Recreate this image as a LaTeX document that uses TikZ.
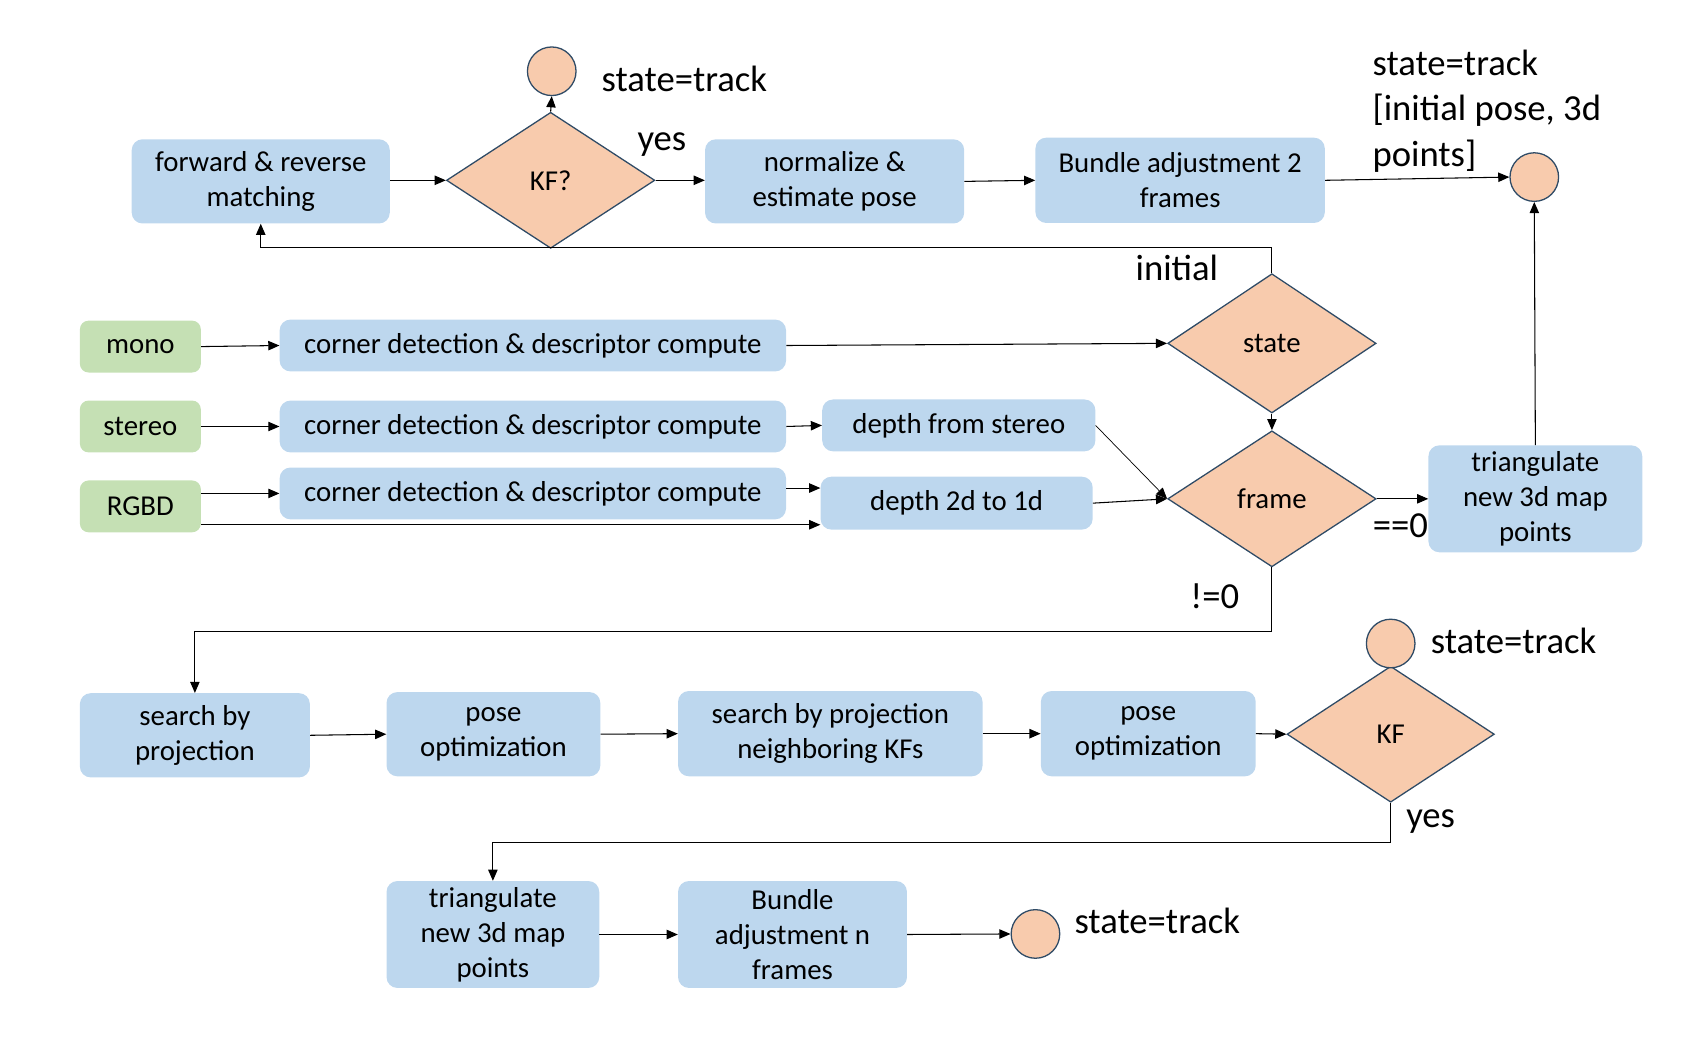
\documentclass[tikz,border=0pt]{standalone}
\usepackage{fontspec}
\setmainfont{Carlito}
\usetikzlibrary{arrows.meta,shapes.geometric,calc}
\newdimen\pxu \pxu=0.032391cm
\definecolor{boxblue}{HTML}{BDD7EE}
\definecolor{boxgreen}{HTML}{C5E0B4}
\definecolor{diafill}{HTML}{F8CBAD}
\definecolor{diaborder}{HTML}{2F4B66}
\tikzset{
  bx/.style 2 args={fill=boxblue, rounded corners=10\pxu, inner sep=0pt, align=center,
    font=\fontsize{24.6}{30}\selectfont, minimum width=#1\pxu, minimum height=#2\pxu},
  gbx/.style 2 args={fill=boxgreen, rounded corners=8\pxu, inner sep=0pt, align=center,
    font=\fontsize{24.6}{30}\selectfont, minimum width=#1\pxu, minimum height=#2\pxu},
  dia/.style 2 args={diamond, draw=diaborder, fill=diafill, line width=1.1pt, inner sep=0pt,
    font=\fontsize{24.6}{30}\selectfont, minimum width=#1\pxu, minimum height=#2\pxu},
  endc/.style={circle, draw=diaborder, fill=diafill, line width=1.1pt, inner sep=0pt,
    minimum size=45\pxu},
  lbl/.style={inner sep=0pt, font=\fontsize{31.3}{38.5}\selectfont, align=left},
  arr/.style={draw=black, line width=0.9pt, -{Triangle[length=9.5pt,width=8pt]}},
}
\begin{document}
\begin{tikzpicture}[x=0.032391cm, y=-0.032391cm]
\useasboundingbox (0,0) rectangle (1568,965);

% top row
\node[bx={239}{78}] (fwd) at (241.5,168) {forward \& reverse\\matching};
\node[dia={193}{126}] (kf1) at (510,167) {KF?};
\node[endc] (c1) at (511,66) {};
\node[lbl, anchor=west] (l1) at (557,73) {state=track};
\node[lbl] (yes1) at (613,134) {yes};
\node[bx={240}{78}] (norm) at (773,168) {normalize \&\\estimate pose};
\node[bx={268}{79}] (ba2) at (1093,167) {Bundle adjustment 2\\frames};
\node[endc] (c2) at (1421,164) {};
\node[lbl, anchor=west] (l2) at (1271,103) {state=track\\{}[initial pose, 3d\\points]};

% middle
\node[gbx={112}{48}] (mono) at (130,321) {mono};
\node[bx={469}{48}] (cd1) at (493.5,320) {corner detection \& descriptor compute};
\node[dia={193}{129}] (state) at (1178,318) {state};
\node[lbl] (init) at (1090,248) {initial};

\node[gbx={112}{48}] (stereo) at (130,395) {stereo};
\node[bx={469}{48}] (cd2) at (493.5,395) {corner detection \& descriptor compute};
\node[bx={253}{48}] (dst) at (888,394) {depth from stereo};

\node[gbx={112}{48}] (rgbd) at (130,469) {RGBD};
\node[bx={469}{48}] (cd3) at (493.5,457) {corner detection \& descriptor compute};
\node[bx={252}{49}] (d2d) at (886,466) {depth 2d to 1d};

\node[dia={193}{126}] (frame) at (1178,462) {frame};
\node[bx={198}{99}] (tri1) at (1422,462) {triangulate\\new 3d map\\points};
\node[lbl] (eq0) at (1297,487) {==0};
\node[lbl] (ne0) at (1125,552) {!=0};

% lower row
\node[bx={213}{78}] (srch) at (180.5,681) {search by\\projection};
\node[bx={198}{78}] (po1) at (457,680) {pose\\optimization};
\node[bx={282}{79}] (sn) at (769,679.5) {search by projection\\neighboring KFs};
\node[bx={199}{79}] (po2) at (1063.5,679.5) {pose\\optimization};
\node[dia={192}{126}] (kf2) at (1288,680) {KF};
\node[endc] (c3) at (1288,596) {};
\node[lbl, anchor=west] (l3) at (1325,594) {state=track};
\node[lbl] (yes2) at (1325,761) {yes};

% bottom row
\node[bx={197}{99}] (tri2) at (456.5,865.5) {triangulate\\new 3d map\\points};
\node[bx={212}{99}] (ban) at (734,865.5) {Bundle\\adjustment n\\frames};
\node[endc] (c4) at (959,865) {};
\node[lbl, anchor=west] (l4) at (995,853) {state=track};

% connectors top
\draw[arr] (fwd.east |- kf1.west) -- (kf1.west);
\draw[arr] (kf1.north) -- (c1.south);
\draw[arr] (kf1.east) -- (norm.west |- kf1.east);
\draw[arr] (norm.east) -- (ba2.west);
\draw[arr] (ba2.east) -- (c2.west);
\draw[arr] (tri1.north) -- (c2.south);
\draw[arr] (state.north) -- ++(0,-24) -| (fwd.south);

% connectors middle
\draw[arr] (mono.east) -- (cd1.west);
\draw[arr] (cd1.east) -- (state.west);
\draw[arr] (stereo.east) -- (cd2.west);
\draw[arr] (cd2.east) -- (dst.west);
\draw[arr] (rgbd.east |- cd3.west) -- (cd3.west);
\draw[arr] ([yshift=-17\pxu]rgbd.east) -- ([yshift=-20\pxu]d2d.west);
\draw[arr] ([yshift=5\pxu]cd3.east) -- ([yshift=14\pxu]d2d.west);
\draw[arr, line width=0.6pt] (dst.east) -- (frame.west);
\draw[arr] (d2d.east) -- (frame.west);
\draw[arr] (state.south) -- (frame.north);
\draw[arr] (frame.east) -- (tri1.west);
\draw[arr] (frame.south) -- ++(0,59) -| (srch.north);

% connectors lower
\draw[arr] (srch.east) -- (po1.west);
\draw[arr] (po1.east) -- (sn.west);
\draw[arr] (sn.east) -- (po2.west);
\draw[arr] (po2.east) -- (kf2.west);
\draw[arr] (kf2.south) -- ++(0,37) -| (tri2.north);
\draw[arr] (tri2.east) -- (ban.west);
\draw[arr] (ban.east) -- (c4.west);
\end{tikzpicture}
\end{document}
